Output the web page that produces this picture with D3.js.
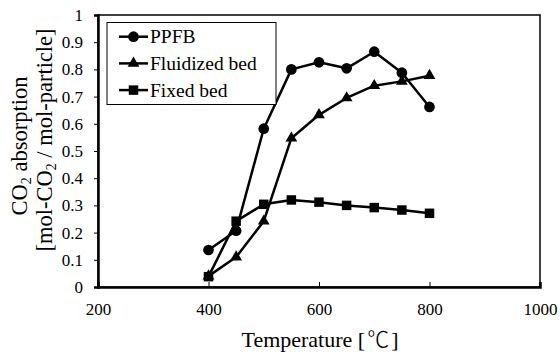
<!DOCTYPE html>
<html>
<head>
<meta charset="utf-8">
<script src="https://cdn.jsdelivr.net/npm/d3@7"></script>
<style>
  body { margin: 0; background: #fff; }
</style>
</head>
<body>
<svg id="chart" width="560" height="356"></svg>
<script>
// data
var temps = [400, 450, 500, 550, 600, 650, 700, 750, 800];
var ppfb = [0.136, 0.207, 0.582, 0.800, 0.826, 0.804, 0.865, 0.788, 0.662];
var fluidized = [0.040, 0.110, 0.242, 0.547, 0.633, 0.695, 0.740, 0.756, 0.777];
var fixedBed = [0.038, 0.242, 0.304, 0.320, 0.312, 0.300, 0.292, 0.283, 0.271];
var xTicks = [200, 400, 600, 800, 1000];
var yTicks = [0, 0.1, 0.2, 0.3, 0.4, 0.5, 0.6, 0.7, 0.8, 0.9, 1];

var series = [
  {name: 'PPFB', values: ppfb, symbol: d3.symbolCircle, size: 90},
  {name: 'Fluidized bed', values: fluidized, symbol: d3.symbolTriangle, size: 60},
  {name: 'Fixed bed', values: fixedBed, symbol: d3.symbolSquare, size: 90}
];

var serif = "'Liberation Serif', serif";
var svg = d3.select('#chart');
var plotL = 98, plotR = 540, plotT = 15, plotB = 287;

var x = d3.scaleLinear().domain([200, 1000]).range([plotL, plotR]);
var y = d3.scaleLinear().domain([0, 1]).range([plotB, plotT]);

// frame: thin top/right
svg.append('rect')
  .attr('x', plotL).attr('y', plotT)
  .attr('width', plotR - plotL).attr('height', plotB - plotT)
  .attr('fill', 'none').attr('stroke', '#000').attr('stroke-width', 1.5);

// y axis, ticks outward
var yAxis = svg.append('g')
  .attr('transform', 'translate(' + plotL + ',0)')
  .call(d3.axisLeft(y).tickValues(yTicks).tickSize(4).tickPadding(11)
    .tickFormat(function (d) { return String(+d.toFixed(1)); }));
yAxis.select('.domain').attr('stroke-width', 2.5);
yAxis.selectAll('line').attr('stroke-width', 1);
yAxis.selectAll('text').attr('font-size', 17).style('font-family', serif);

// x axis, ticks inward
var xAxis = svg.append('g')
  .attr('transform', 'translate(0,' + plotB + ')')
  .call(d3.axisBottom(x).tickValues(xTicks).tickSize(-5).tickPadding(16).tickFormat(d3.format('d')));
xAxis.select('.domain').attr('stroke-width', 2.5);
xAxis.selectAll('line').attr('stroke-width', 1);
xAxis.selectAll('text').attr('font-size', 17).style('font-family', serif);

// axis titles
var xt = svg.append('text')
  .attr('x', 320).attr('y', 347)
  .attr('text-anchor', 'middle').attr('font-size', 22).style('font-family', serif);
xt.append('tspan').text('Temperature [');
xt.append('tspan').attr('dx', 2).style('font-family', "'Noto Sans CJK JP', sans-serif").attr('font-weight', 300).text('℃');
xt.append('tspan').attr('dx', 2).text(']');

var yt = svg.append('g').attr('transform', 'translate(0,' + ((plotT + plotB) / 2) + ') rotate(-90)');
var t1 = yt.append('text').attr('x', 5).attr('y', 27).attr('text-anchor', 'middle')
  .attr('font-size', 22.5).style('font-family', serif);
t1.append('tspan').text('CO');
t1.append('tspan').attr('font-size', 14).attr('dy', 4).text('2');
t1.append('tspan').attr('dy', -4).text(' absorption');
var t2 = yt.append('text').attr('x', 11).attr('y', 52).attr('text-anchor', 'middle')
  .attr('font-size', 22.5).style('font-family', serif);
t2.append('tspan').text('[mol-CO');
t2.append('tspan').attr('font-size', 14).attr('dy', 4).text('2');
t2.append('tspan').attr('dy', -4).text(' / mol-particle]');

// lines and markers
var line = d3.line()
  .x(function (d, i) { return x(temps[i]); })
  .y(function (d) { return y(d); });

series.forEach(function (s) {
  svg.append('path')
    .datum(s.values)
    .attr('d', line)
    .attr('fill', 'none').attr('stroke', '#000').attr('stroke-width', 2.5)
    .attr('stroke-linejoin', 'round');
  svg.selectAll(null)
    .data(s.values)
    .enter()
    .append('path')
    .attr('d', d3.symbol().type(s.symbol).size(s.size))
    .attr('transform', function (d, i) { return 'translate(' + x(temps[i]) + ',' + y(d) + ')'; })
    .attr('fill', '#000');
});

// legend
svg.append('rect')
  .attr('x', 107).attr('y', 22.5).attr('width', 169).attr('height', 82)
  .attr('fill', '#fff').attr('stroke', '#000').attr('stroke-width', 1);
series.forEach(function (s, i) {
  var ly = 36.7 + i * 26.7;
  svg.append('line')
    .attr('x1', 119).attr('x2', 148).attr('y1', ly).attr('y2', ly)
    .attr('stroke', '#000').attr('stroke-width', 2.5);
  svg.append('path')
    .attr('d', d3.symbol().type(s.symbol).size(s.size))
    .attr('transform', 'translate(133.5,' + ly + ')')
    .attr('fill', '#000');
  svg.append('text')
    .attr('x', 150).attr('y', ly + 6.5)
    .attr('font-size', 19.5).style('font-family', serif)
    .text(s.name);
});
</script>
</body>
</html>
